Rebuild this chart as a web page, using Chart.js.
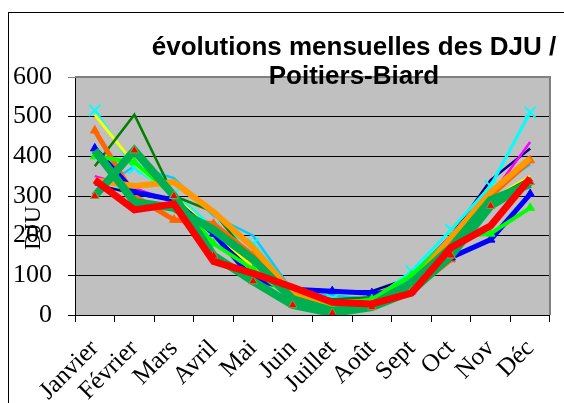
<!DOCTYPE html>
<html>
<head>
<meta charset="utf-8">
<script src="https://cdn.jsdelivr.net/npm/chart.js@4"></script>
<style>
  html, body { margin: 0; padding: 0; background: #fff; }
  #wrap { width: 564px; height: 403px; }
</style>
</head>
<body>
<div id="wrap"><canvas id="djuChart" width="564" height="403"></canvas></div>
<script>
const months = ['Janvier', 'Février', 'Mars', 'Avril', 'Mai', 'Juin', 'Juillet', 'Août', 'Sept', 'Oct', 'Nov', 'Déc'];
const yTicks = [0, 100, 200, 300, 400, 500, 600];

// one row of DJU per year-line
const redLine       = [340, 265, 280, 135, 105, 70, 32, 28, 55, 170, 225, 345];
const seaGreenA     = [300, 415, 300, 150, 85, 25, 5, 20, 60, 150, 275, 335];
const seaGreenB     = [415, 285, 270, 215, 140, 40, 10, 25, 80, 170, 290, 330];
const orangeLine    = [340, 325, 335, 260, 170, 55, 30, 30, 75, 195, 310, 395];
const darkOrange    = [465, 300, 240, 230, 150, 50, 25, 30, 60, 140, 300, 390];
const blueLine      = [420, 310, 290, 205, 90, 65, 60, 55, 60, 145, 190, 305];
const limeLine      = [400, 385, 300, 180, 115, 40, 25, 40, 100, 195, 205, 270];
const darkGreenLine = [375, 505, 300, 260, 135, 55, 40, 45, 80, 170, 290, 345];
const skyBlueLine   = [310, 375, 345, 250, 200, 60, 50, 40, 90, 190, 310, 380];
const cyanLine      = [516, 370, 305, 220, 180, 55, 40, 35, 110, 215, 325, 511];
const yellowLine    = [505, 380, 300, 210, 120, 45, 35, 40, 80, 175, 290, 350];
const magentaLine   = [350, 320, 285, 220, 140, 55, 35, 45, 100, 200, 300, 436];
const navyLine      = [330, 305, 290, 210, 110, 65, 60, 60, 95, 200, 340, 420];

function Line(data, color, width, marker) {
    let ds = {
        data: data,
        borderColor: color,
        backgroundColor: color,
        borderWidth: width,
        tension: 0,
        pointRadius: 0,
        pointBorderWidth: 1
    };
    if (marker) Object.assign(ds, marker);
    return ds;
}

const triangle = (fill, edge) => ({ pointStyle: 'triangle', pointRadius: 5, pointBackgroundColor: fill, pointBorderColor: edge });

// first dataset ends up on top
const datasets = [
    Line(redLine, '#FF0000', 7),
    Line(seaGreenA, '#00B050', 8, triangle('#FF0000', '#7FA040')),
    Line(seaGreenB, '#00B050', 8),
    Line(orangeLine, '#FF9900', 6),
    Line(limeLine, '#00FF00', 4, triangle('#00FF00', '#00FF00')),
    Line(blueLine, '#0000FF', 5, triangle('#0000FF', '#0000FF')),
    Line(darkOrange, '#FF6600', 5, triangle('#FF6600', '#FF6600')),
    Line(darkGreenLine, '#008000', 2.5),
    Line(yellowLine, '#FFFF00', 3),
    Line(cyanLine, '#00FFFF', 3, { pointStyle: 'crossRot', pointRadius: 8, pointBorderColor: '#00FFFF', pointBorderWidth: 2 }),
    Line(skyBlueLine, '#00CCFF', 2.5),
    Line(magentaLine, '#FF00FF', 2.5),
    Line(navyLine, '#000080', 2.5)
];

// grey plot area, outer frame, title and axis title
const decor = {
    id: 'decor',
    beforeDraw(chart) {
        const ctx = chart.ctx, a = chart.chartArea;
        ctx.save();
        ctx.fillStyle = '#fff';
        ctx.fillRect(0, 0, chart.width, chart.height);
        ctx.fillStyle = '#C0C0C0';
        ctx.fillRect(a.left, a.top, a.right - a.left, a.bottom - a.top);
        ctx.strokeStyle = '#000';
        ctx.lineWidth = 1;
        ctx.strokeRect(8.5, 12.5, 700, 500);
        ctx.restore();
    },
    afterDraw(chart) {
        const ctx = chart.ctx, a = chart.chartArea;
        ctx.save();
        ctx.strokeStyle = '#808080';
        ctx.lineWidth = 2;
        ctx.beginPath();
        ctx.moveTo(a.left, a.top);
        ctx.lineTo(a.right, a.top);
        ctx.lineTo(a.right, a.bottom);
        ctx.stroke();

        ctx.fillStyle = '#000';
        ctx.textAlign = 'center';
        ctx.textBaseline = 'middle';
        ctx.font = 'bold 26px "Liberation Sans", Arial, sans-serif';
        ctx.fillText('évolutions mensuelles des DJU /', 354, 48);
        ctx.fillText('Poitiers-Biard', 354, 77);

        ctx.translate(34, 228);
        ctx.rotate(-Math.PI / 2);
        ctx.font = '24px "Liberation Serif", "Times New Roman", serif';
        ctx.fillText('DJU', 0, 0);
        ctx.restore();
    }
};

const config = {
    type: 'line',
    data: { labels: months, datasets: datasets },
    plugins: [decor],
    options: {
        responsive: false,
        animation: false,
        layout: { padding: { left: 0, top: 77, right: 14, bottom: 0 } },
        plugins: { legend: { display: false }, title: { display: false }, tooltip: { enabled: false } },
        scales: {
            x: {
                offset: true,
                grid: { offset: true, drawOnChartArea: false, drawTicks: true, tickLength: 7, color: '#000' },
                border: { color: '#000', width: 1 },
                ticks: {
                    color: '#000',
                    font: { family: '"Liberation Serif", "Times New Roman", serif', size: 25 },
                    minRotation: 45, maxRotation: 45, autoSkip: false, padding: 12
                },
                afterFit: (scale) => { scale.height = 88; }
            },
            y: {
                min: yTicks[0], max: yTicks[yTicks.length - 1],
                afterBuildTicks: (scale) => { scale.ticks = yTicks.map(v => ({ value: v })); },
                grid: { color: (c) => c.tick && c.tick.value === 600 ? '#808080' : '#000', tickLength: 7, lineWidth: 1 },
                border: { color: '#000', width: 1 },
                ticks: {
                    color: '#000', padding: 16,
                    font: { family: '"Liberation Serif", "Times New Roman", serif', size: 26 }
                },
                afterFit: (scale) => { scale.width = 75; }
            }
        }
    }
};

const myChart = new Chart(document.getElementById('djuChart'), config);
</script>
</body>
</html>
